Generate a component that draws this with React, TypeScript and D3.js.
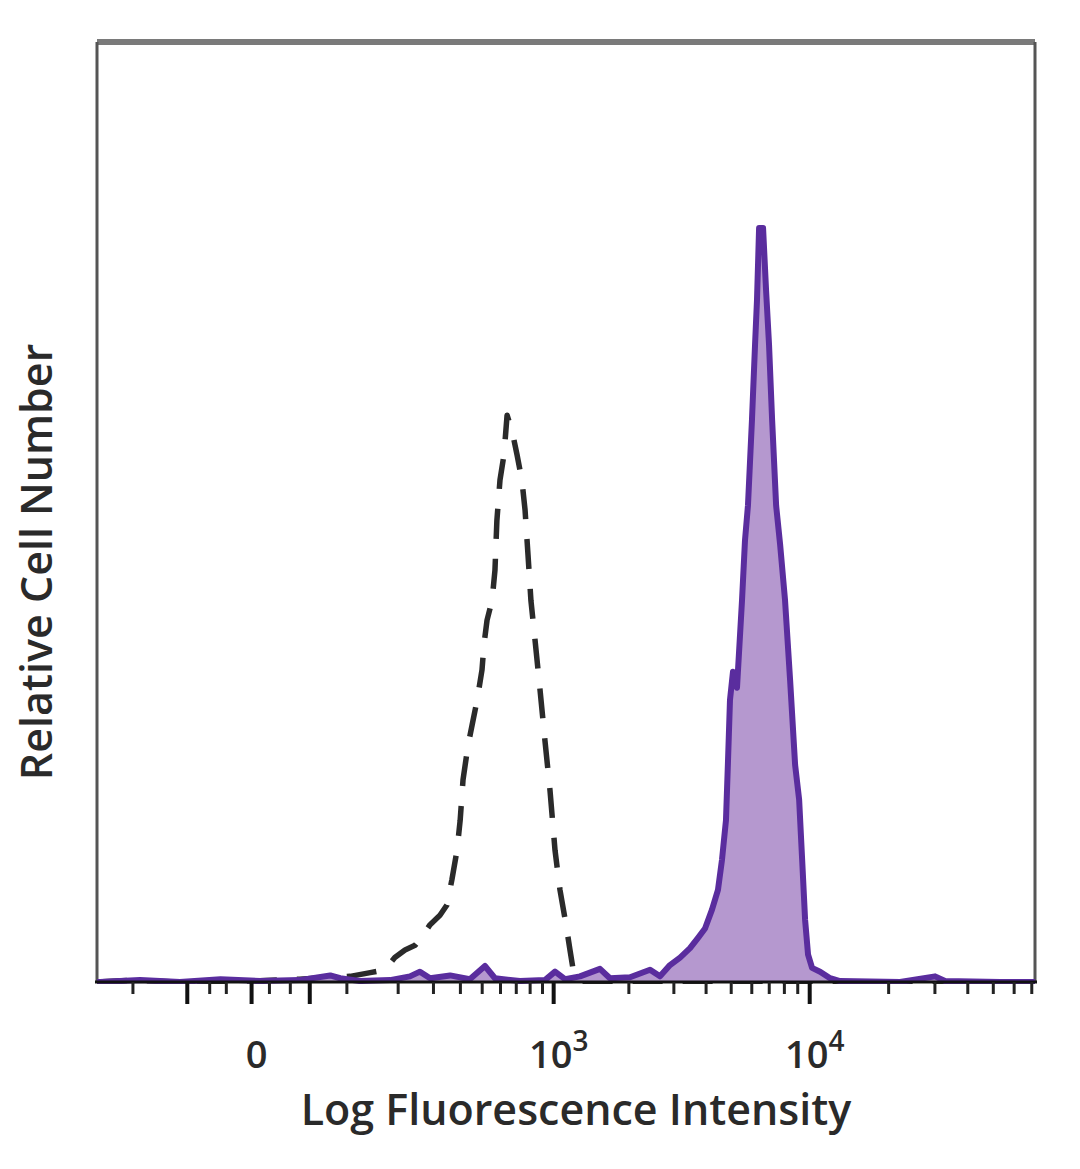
import React from "react";
import * as d3 from "d3";

// ---- axis ticks ----
const xMajorTicks = [0, 1000, 10000];
const xMajorBase = ["0", "10", "10"];
const xMajorExp = ["", "3", "4"];
const xMidTicks = [-58, 51];
const xMinorTicks = [
  -140, -34, -19, 13, 31, 100, 200, 300, 400, 500, 600, 700, 800, 900,
  2000, 3000, 4000, 5000, 6000, 7000, 8000, 9000,
  20000, 30000, 40000, 50000, 60000, 70000,
];

// ---- stained sample (purple, filled) ----
const stainedX = [
  -220, -212, -127, -67, -24, 6, 40, 76, 90, 121, 181, 230, 258, 289, 359, 441, 514, 568,
  725, 921, 1013, 1112, 1278, 1537, 1684, 2021, 2422, 2649, 2898, 3171, 3466, 3723, 3962,
  4216, 4446, 4607, 4773, 4861, 4946, 5079, 5263, 5502, 5650, 5800, 6009, 6175, 6283, 6399,
  6629, 6806, 6987, 7180, 7438, 7707, 8047, 8415, 8794, 9111, 9357, 9603, 9857, 10210,
  10957, 11965, 13054, 22107, 30038, 32780, 53022, 72000,
];
const stainedY = [
  0, 0, 0.2, 0, 0.3, 0.1, 0.2, 0.7, 0.4, 0.1, 0.2, 0.6, 1.1, 0.4, 0.7, 0.3, 1.7, 0.4,
  0.1, 0.2, 1.1, 0.3, 0.6, 1.4, 0.4, 0.5, 1.3, 0.6, 1.8, 2.6, 3.6, 4.7, 5.7,
  7.7, 9.8, 13.0, 17.2, 23.6, 30.0, 33.0, 31.3, 40.6, 47.0, 50.7, 59.8, 67.8, 72.6, 80.2,
  80.2, 73.6, 67.8, 59.8, 50.7, 46.5, 40.6, 32.1, 23.1, 19.4, 13.0, 6.6, 2.9, 1.5,
  1.1, 0.4, 0.1, 0, 0.6, 0.1, 0, 0,
];

// ---- isotype control (dashed) ----
const isotypeX = [
  -220, -140, -67, -1, 40, 76, 105, 140, 170, 192, 217, 244, 267, 289, 322, 347, 366, 386,
  399, 411, 433, 451, 475, 499, 509, 525, 552, 568, 579, 597, 621, 640, 671, 705, 739, 762,
  784, 806, 838, 879, 921, 966, 1013, 1061, 1123, 1165, 1210, 1278, 1537, 3789, 72000,
];
const isotypeY = [
  0, 0.2, 0, 0.1, 0.3, 0.5, 0.6, 1.0, 1.3, 2.6, 3.4, 3.9, 5.0, 6.1, 7.1, 8.2, 10.9, 14.0,
  17.2, 21.5, 25.2, 27.3, 30.0, 33.2, 35.9, 38.5, 40.6, 43.8, 49.1, 53.4, 56.1, 60.3, 58.7,
  56.1, 53.4, 50.2, 45.4, 40.6, 36.4, 31.1, 25.7, 20.4, 14.0, 9.8, 6.1, 3.4, 0.7, 0.1, 0, 0, 0,
];

const W = 1080;
const H = 1169;
const left = 97;
const right = 1035;
const top = 42;
const bottom = 982;

export default function App() {
  const x = d3.scaleSymlog().constant(77).domain([-220, 72000]).range([left, right]);
  const y = d3.scaleLinear().domain([0, 100]).range([bottom, top]);

  const stained = stainedX.map((v, i) => [v, stainedY[i]] as [number, number]);
  const isotype = isotypeX.map((v, i) => [v, isotypeY[i]] as [number, number]);

  const line = d3
    .line<[number, number]>()
    .x((d) => x(d[0]))
    .y((d) => y(d[1]))
    .curve(d3.curveLinear);
  const area = d3
    .area<[number, number]>()
    .x((d) => x(d[0]))
    .y0(y(0))
    .y1((d) => y(d[1]))
    .curve(d3.curveLinear);

  const font = "'Open Sans', 'Noto Sans', sans-serif";

  return (
    <svg
      width={W}
      height={H}
      style={{ position: "absolute", left: 0, top: 0, background: "#fff" }}
    >
      <defs>
        <clipPath id="plot">
          <rect x={left} y={top} width={right - left} height={bottom - top + 2} />
        </clipPath>
      </defs>

      {/* frame */}
      <line x1={left} y1={top} x2={right} y2={top} stroke="#7a7a7a" strokeWidth={6} />
      <line x1={left} y1={top} x2={left} y2={bottom} stroke="#555" strokeWidth={3} />
      <line x1={right} y1={top} x2={right} y2={bottom} stroke="#555" strokeWidth={3} />

      <g clipPath="url(#plot)">
        <path
          d={line(isotype) || ""}
          fill="none"
          stroke="#2a2a2a"
          strokeWidth={5.5}
          strokeDasharray="30 20"
          strokeLinejoin="round"
        />
        <path d={area(stained) || ""} fill="#b598cf" stroke="none" />
        <path
          d={line(stained) || ""}
          fill="none"
          stroke="#5a2d9e"
          strokeWidth={6}
          strokeLinejoin="round"
        />
      </g>

      {/* x axis */}
      <line x1={left - 2} y1={bottom} x2={right + 2} y2={bottom} stroke="#111" strokeWidth={3} />
      {xMinorTicks.map((t) => (
        <line key={"mi" + t} x1={x(t)} x2={x(t)} y1={bottom} y2={bottom + 12} stroke="#222" strokeWidth={3} />
      ))}
      {xMidTicks.map((t) => (
        <line key={"md" + t} x1={x(t)} x2={x(t)} y1={bottom} y2={bottom + 22} stroke="#111" strokeWidth={4} />
      ))}
      {xMajorTicks.map((t) => (
        <line key={"ma" + t} x1={x(t)} x2={x(t)} y1={bottom} y2={bottom + 22} stroke="#111" strokeWidth={4} />
      ))}
      {xMajorTicks.map((t, i) => (
        <text
          key={"lb" + t}
          x={x(t) + 5}
          y={1068}
          textAnchor="middle"
          fontFamily={font}
          fontSize={38}
          fontWeight={600}
          fill="#2a2a2a"
        >
          {xMajorBase[i]}
          {xMajorExp[i] ? (
            <tspan fontSize={28} dy={-17}>
              {xMajorExp[i]}
            </tspan>
          ) : null}
        </text>
      ))}

      <text
        x={576}
        y={1125}
        textAnchor="middle"
        fontFamily={font}
        fontSize={43}
        fontWeight={600}
        fill="#2a2a2a"
      >
        Log Fluorescence Intensity
      </text>
      <text
        transform={`translate(52, 562) rotate(-90)`}
        textAnchor="middle"
        fontFamily={font}
        fontSize={43}
        fontWeight={600}
        fill="#2a2a2a"
      >
        Relative Cell Number
      </text>
    </svg>
  );
}
